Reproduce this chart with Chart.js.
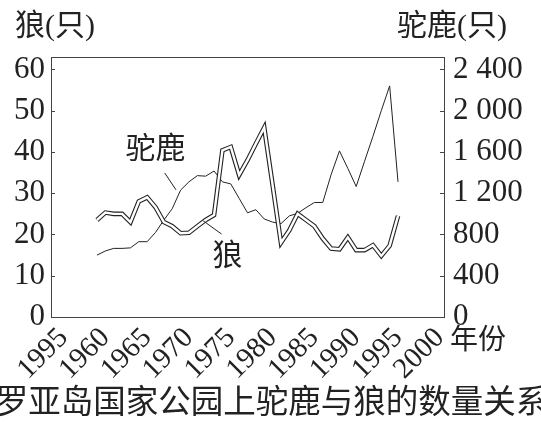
<!DOCTYPE html>
<html><head><meta charset="utf-8">
<script src="https://cdn.jsdelivr.net/npm/chart.js@4"></script>
<style>html,body{margin:0;padding:0;background:#fff;}canvas{display:block;}</style>
</head><body>
<canvas id="c" width="541" height="429"></canvas>
<script>
const years = [1959,1960,1961,1962,1963,1964,1965,1966,1967,1968,1969,1970,1971,1972,1973,1974,1975,1976,1977,1978,1979,1980,1981,1982,1983,1984,1985,1986,1987,1988,1989,1990,1991,1992,1993,1994,1995];
const wolf = [23.5,25.3,25,25,23,28,29,26.6,23,22,20.3,20.4,22,23.5,24.7,40.4,41.2,34.4,38,42,45.9,32,18,21,25,23.5,22,19,16.6,16.4,19.3,16.2,16.2,17.4,14.8,17.3,24.5];
const moose = [600,640,665,665,670,730,730,820,940,1050,1230,1310,1370,1365,1415,1310,1290,1150,1010,1040,950,920,905,980,1005,1060,1110,1110,1380,1610,1440,1265,1510,1750,2000,2240,1310];
const xTickValues = [1955,1960,1965,1970,1975,1980,1985,1990,1995,2000];
const xTickLabels = ["1995","1960","1965","1970","1975","1980","1985","1990","1995","2000"];
const wolfTickValues = [0,10,20,30,40,50,60];
const wolfTickLabels = ["0","10","20","30","40","50","60"];
const mooseTickValues = [0,400,800,1200,1600,2000,2400];
const mooseTickLabels = ["0","400","800","1 200","1 600","2 000","2 400"];
const wolfTitle = "狼(只)";
const mooseTitle = "驼鹿(只)";
const xTitle = "年份";
const caption = "罗亚岛国家公园上驼鹿与狼的数量关系";
const mooseName = "驼鹿";
const wolfName = "狼";

const SERIF = '"Liberation Serif", "Noto Sans CJK SC", serif';
const INK = '#222';

const wolfPts = years.map((y,i)=>({x:y,y:wolf[i]}));
const moosePts = years.map((y,i)=>({x:y,y:moose[i]}));

const notes = [
  {text: mooseName, at:[1966,41.2], from:[1967.1,34.9], to:[1968.45,30.8]},
  {text: wolfName, at:[1974.6,15.4], from:[1971.7,23.3], to:[1973.9,20.1]}
];

const decor = {
  id:'decor',
  afterDatasetsDraw(chart){
    const {ctx, chartArea:a} = chart;
    const yl = chart.scales.yWolf, yr = chart.scales.yMoose, xs = chart.scales.x;
    ctx.save();
    ctx.strokeStyle = '#444';
    ctx.lineWidth = 1;
    ctx.strokeRect(Math.round(a.left)+0.5, Math.round(a.top)+0.5, Math.round(a.right-a.left), Math.round(a.bottom-a.top));
    ctx.beginPath();
    wolfTickValues.forEach(v=>{ const y=Math.round(yl.getPixelForValue(v))+0.5; ctx.moveTo(a.left, y); ctx.lineTo(a.left+4, y); });
    mooseTickValues.forEach(v=>{ const y=Math.round(yr.getPixelForValue(v))+0.5; ctx.moveTo(a.right-4, y); ctx.lineTo(a.right, y); });
    ctx.stroke();
    ctx.strokeStyle = INK;
    ctx.fillStyle = INK;
    ctx.font = '30px "Noto Sans CJK SC", sans-serif';
    ctx.textAlign = 'center';
    ctx.textBaseline = 'middle';
    notes.forEach(n=>{
      ctx.fillText(n.text, xs.getPixelForValue(n.at[0]), yl.getPixelForValue(n.at[1]));
      ctx.beginPath();
      ctx.moveTo(xs.getPixelForValue(n.from[0]), yl.getPixelForValue(n.from[1]));
      ctx.lineTo(xs.getPixelForValue(n.to[0]), yl.getPixelForValue(n.to[1]));
      ctx.stroke();
    });
    ctx.restore();
  },
  afterDraw(chart){
    const {ctx, chartArea:a} = chart;
    ctx.save();
    ctx.fillStyle = INK;
    ctx.textBaseline = 'middle';
    ctx.font = '30px ' + SERIF;
    ctx.textAlign = 'left';
    ctx.fillText(wolfTitle, 15, 27);
    ctx.textAlign = 'right';
    ctx.fillText(mooseTitle, 507, 27);
    ctx.textAlign = 'left';
    ctx.font = '28px ' + SERIF;
    ctx.fillText(xTitle, a.right + 6, a.bottom + 25);
    ctx.textAlign = 'center';
    ctx.font = '32.5px "Noto Sans CJK SC", sans-serif';
    ctx.fillText(caption, 272, 401);
    ctx.restore();
  }
};

new Chart(document.getElementById('c'), {
  type: 'line',
  data: {
    datasets: [
      {data: wolfPts, yAxisID:'yWolf', borderColor:'#fff', borderWidth:2.4, order:0, borderJoinStyle:'miter'},
      {data: wolfPts, yAxisID:'yWolf', borderColor:INK, borderWidth:4.6, order:1, borderJoinStyle:'miter'},
      {data: moosePts, yAxisID:'yMoose', borderColor:INK, borderWidth:1, order:2, borderJoinStyle:'miter'}
    ]
  },
  plugins: [decor],
  options: {
    responsive:false,
    animation:false,
    events:[],
    layout:{padding:{top:57,left:0,right:0,bottom:0}},
    elements:{point:{radius:0}, line:{tension:0, fill:false}},
    plugins:{legend:{display:false}, tooltip:{enabled:false}},
    scales:{
      x:{
        type:'linear', min:1953.5, max:2000.5,
        afterBuildTicks(s){ s.ticks = xTickValues.map(v=>({value:v})); },
        afterFit(s){ s.height = 112; },
        grid:{display:false, drawTicks:false}, border:{display:false},
        ticks:{autoSkip:false, minRotation:45, maxRotation:45, padding:4, color:INK,
          font:{family:SERIF, size:29},
          callback:(v)=>{ const i=xTickValues.indexOf(v); return i>=0?xTickLabels[i]:''; }}
      },
      yWolf:{
        type:'linear', position:'left', min:0, max:63,
        afterBuildTicks(s){ s.ticks = wolfTickValues.map(v=>({value:v})); },
        afterFit(s){ s.width = 51; },
        grid:{display:false, drawTicks:false}, border:{display:false},
        ticks:{padding:6, color:INK, font:{family:SERIF, size:31},
          callback:(v)=>{ const i=wolfTickValues.indexOf(v); return i>=0?wolfTickLabels[i]:''; }}
      },
      yMoose:{
        type:'linear', position:'right', min:0, max:2520,
        afterBuildTicks(s){ s.ticks = mooseTickValues.map(v=>({value:v})); },
        afterFit(s){ s.width = 97; },
        grid:{display:false, drawTicks:false}, border:{display:false},
        ticks:{padding:9, color:INK, font:{family:SERIF, size:31},
          callback:(v)=>{ const i=mooseTickValues.indexOf(v); return i>=0?mooseTickLabels[i]:''; }}
      }
    }
  }
});
</script>
</body></html>
